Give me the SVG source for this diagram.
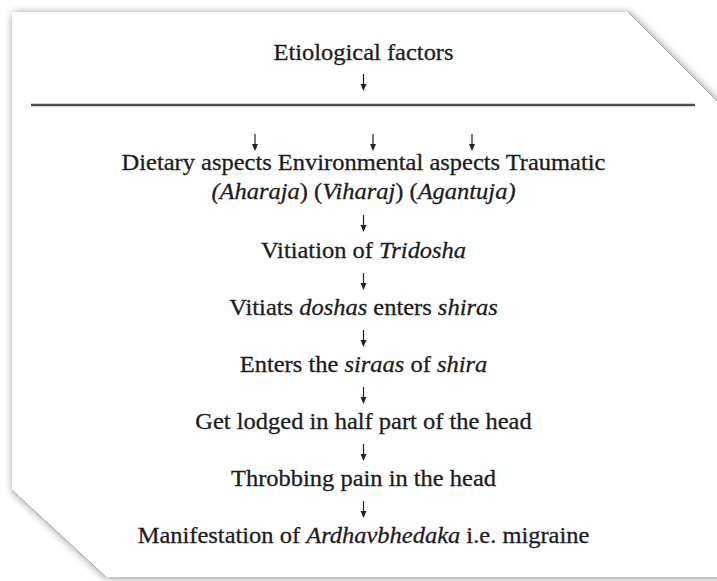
<svg xmlns="http://www.w3.org/2000/svg" width="717" height="581" viewBox="0 0 717 581">
<style>
  .t { font-size: 24px; fill: #1c1c1c; stroke: #1c1c1c; stroke-width: 0.3; text-anchor: middle; }
  .i { font-style: italic; }
  .arr { stroke: #222; stroke-width: 1.2; fill: none; }
  .head { fill: #222; stroke: none; }
</style>
<defs>
  <filter id="sh" x="-10%" y="-10%" width="120%" height="120%">
    <feGaussianBlur in="SourceAlpha" stdDeviation="4" result="b"/>
    <feOffset in="b" dx="1" dy="1" result="o"/>
    <feComponentTransfer in="o" result="s"><feFuncA type="linear" slope="0.45"/></feComponentTransfer>
    <feMerge><feMergeNode in="s"/><feMergeNode in="SourceGraphic"/></feMerge>
  </filter>
  <g id="dn">
    <line class="arr" x1="0" y1="0" x2="0" y2="13"/>
    <path class="head" d="M-3,10 L3,10 L0,17 Z"/>
  </g>
</defs>
<rect width="717" height="581" fill="#ffffff"/>
<g id="card">
  <path d="M12,12 L628,12 L730,114 L730,577 L106,577 L12,490 Z" fill="#ffffff" filter="url(#sh)"/>
  <path d="M628,12 L730,114 M12,490 L106,577" stroke="#a8a8a8" stroke-width="1" fill="none"/>
</g>
<line id="divider" x1="31" y1="105" x2="695" y2="105" stroke="#4d4d4d" stroke-width="2.5"/>
<g id="connectors">
  <use href="#dn" x="363.5" y="74"/>
  <use href="#dn" x="255" y="134"/>
  <use href="#dn" x="373" y="134"/>
  <use href="#dn" x="472" y="134"/>
  <use href="#dn" x="363.5" y="215"/>
  <use href="#dn" x="363.5" y="273"/>
  <use href="#dn" x="363.5" y="330"/>
  <use href="#dn" x="363.5" y="387"/>
  <use href="#dn" x="363.5" y="444"/>
  <use href="#dn" x="363.5" y="501"/>
</g>
<g font-family="Liberation Serif, Tinos, Times New Roman, DejaVu Serif, serif">
<g id="n-etiological"><text class="t" transform="translate(363.5 60) scale(1.02 1)">Etiological factors</text></g>
<g id="n-aspects">
  <text class="t" transform="translate(363.5 170) scale(1.02 1)">Dietary aspects Environmental aspects Traumatic</text>
  <text class="t" transform="translate(363.5 199) scale(1.02 1)"><tspan class="i">(Aharaja</tspan>) (<tspan class="i">Viharaj</tspan>) (<tspan class="i">Agantuja)</tspan></text>
</g>
<g id="n-tridosha"><text class="t" transform="translate(363.5 258) scale(1.02 1)">Vitiation of <tspan class="i">Tridosha</tspan></text></g>
<g id="n-shiras"><text class="t" transform="translate(363.5 315) scale(1.02 1)">Vitiats <tspan class="i">doshas</tspan> enters <tspan class="i">shiras</tspan></text></g>
<g id="n-siraas"><text class="t" transform="translate(363.5 372) scale(1.02 1)">Enters the <tspan class="i">siraas</tspan> of <tspan class="i">shira</tspan></text></g>
<g id="n-lodged"><text class="t" transform="translate(363.5 429) scale(1.02 1)">Get lodged in half part of the head</text></g>
<g id="n-pain"><text class="t" transform="translate(363.5 486) scale(1.02 1)">Throbbing pain in the head</text></g>
<g id="n-migraine"><text class="t" transform="translate(363.5 543) scale(1.02 1)">Manifestation of <tspan class="i">Ardhavbhedaka</tspan> i.e. migraine</text></g>
</g>
</svg>
